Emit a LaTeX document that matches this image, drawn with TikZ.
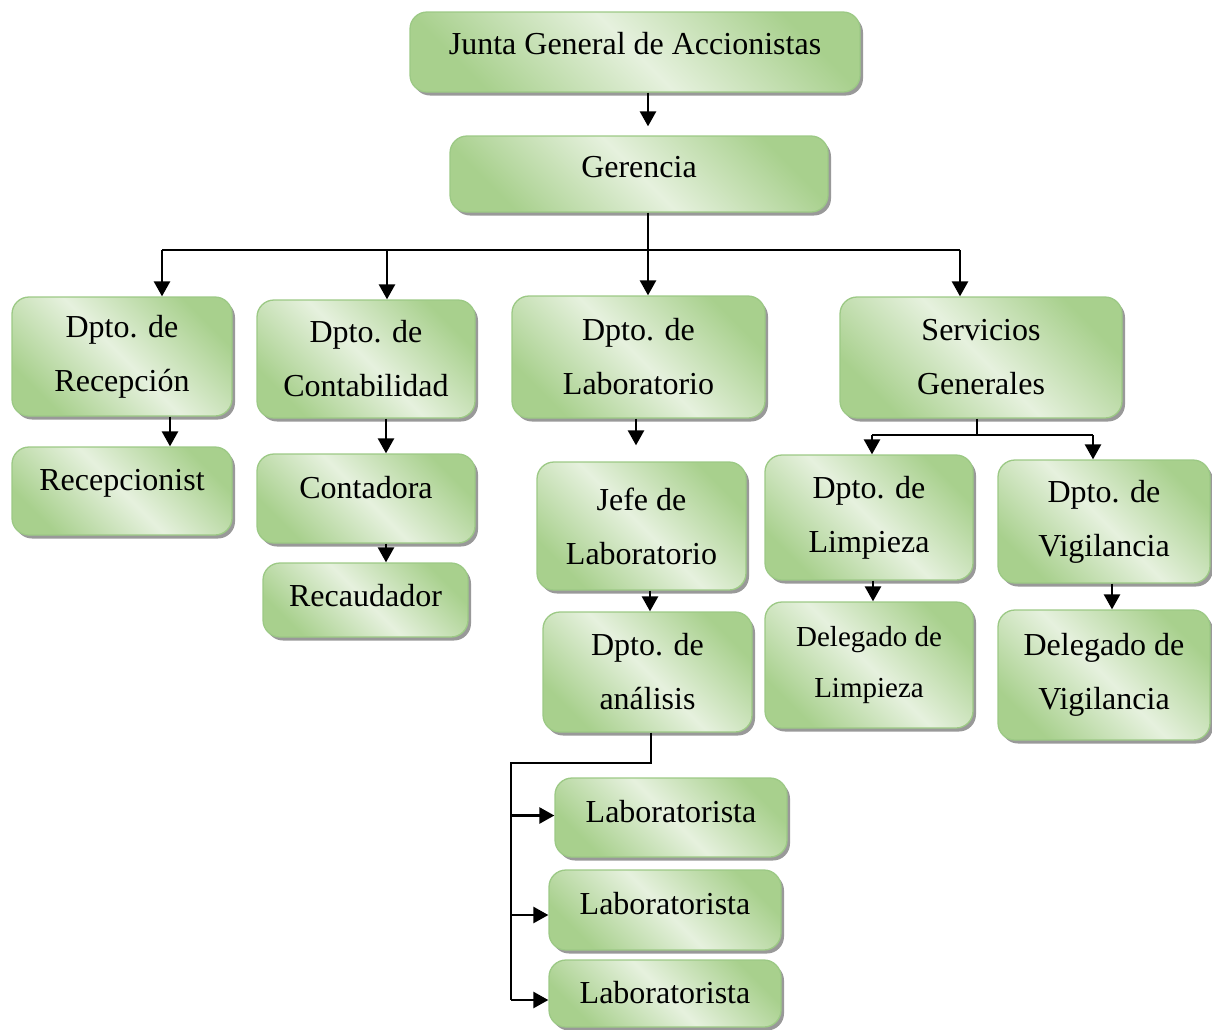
\documentclass[tikz,border=0pt]{standalone}
\usepackage{fontspec}
\setmainfont{Liberation Serif}
\usetikzlibrary{shadows,arrows.meta}
\definecolor{gdark}{HTML}{A8D08D}
\definecolor{glight}{HTML}{E6F1DE}
\definecolor{gedge}{HTML}{9CC985}
\definecolor{shd}{HTML}{8E8E8E}
\begin{document}
\begin{tikzpicture}[x=1pt,y=-1pt,
  box/.style={rounded corners=17pt, draw=gedge, line width=1.3pt,
    top color=gdark, bottom color=gdark, middle color=glight, shading angle=-45,
    drop shadow={shadow xshift=3pt, shadow yshift=-3.5pt, fill=shd, opacity=0.9},
    align=center, font=\fontsize{32}{54}\selectfont, inner sep=0pt},
  wh/.style 2 args={minimum width=#1, minimum height=#2},
  one/.style={text height=22pt, text depth=#1},
  arr/.style={line width=2.6pt, -{Triangle[width=16pt,length=15pt]}},
  ln/.style={line width=2pt}]
\useasboundingbox (0,0) rectangle (1212,1029);

\node[box, wh={450pt}{80pt}, one=18pt] (jga) at (635,52) {Junta General de Accionistas};
\node[box, wh={378pt}{76pt}, one=16pt] (ger) at (639,174) {Gerencia};
\node[box, wh={220pt}{119pt}] (rec) at (122,356.5) {Dpto. de\\Recepción};
\node[box, wh={218pt}{118pt}] (cont) at (366,359) {Dpto. de\\Contabilidad};
\node[box, wh={253pt}{122pt}] (lab) at (638.5,357) {Dpto. de\\Laboratorio};
\node[box, wh={282pt}{121pt}] (serv) at (981,357.5) {Servicios\\Generales};
\node[box, wh={220pt}{88pt}, one=24pt] (recp) at (122,491) {Recepcionist};
\node[box, wh={218pt}{89pt}, one=22pt] (contd) at (366,498.5) {Contadora};
\node[box, wh={205pt}{74pt}, one=10pt] (recd) at (365.5,600) {Recaudador};
\node[box, wh={209pt}{128pt}] (jefe) at (641.5,526) {Jefe de\\Laboratorio};
\node[box, wh={209pt}{120pt}] (anal) at (647.5,672) {Dpto. de\\análisis};
\node[box, wh={208pt}{125pt}] (limp) at (869,517.5) {Dpto. de\\Limpieza};
\node[box, wh={212pt}{123pt}] (vig) at (1104,521.5) {Dpto. de\\Vigilancia};
\node[box, wh={208pt}{126pt}, font=\fontsize{29}{51}\selectfont] (dlimp) at (869,665) {Delegado de\\Limpieza};
\node[box, wh={212pt}{130pt}] (dvig) at (1104,675) {Delegado de\\Vigilancia};
\node[box, wh={232pt}{79pt}, one=12pt] (l1) at (671,817.5) {Laboratorista};
\node[box, wh={232pt}{80pt}, one=14pt] (l2) at (665,910) {Laboratorista};
\node[box, wh={232pt}{67pt}, one=2pt] (l3) at (665,993.5) {Laboratorista};

% top
\coordinate (t) at (648,0);
\draw[arr, shorten >=9pt] (jga.south -| t) -- (ger.north -| t);
\coordinate (bL) at (162,250);
\coordinate (b2) at (387,250);
\coordinate (b3) at (648,250);
\coordinate (bR) at (960,250);
\draw[ln] (ger.south -| b3) -- (b3);
\draw[ln] (bL) -- (bR);
\draw[arr] (bL) -- (bL |- rec.north);
\draw[arr] (b2) -- (b2 |- cont.north);
\draw[arr] (b3) -- (b3 |- lab.north);
\draw[arr] (bR) -- (bR |- serv.north);

% reception / accounting
\coordinate (xr) at (170,0);
\draw[arr] (rec.south -| xr) -- (recp.north -| xr);
\coordinate (xc) at (386,0);
\draw[arr] (cont.south -| xc) -- (contd.north -| xc);
\draw[arr] (contd.south -| xc) -- (recd.north -| xc);

% laboratory
\coordinate (xl) at (636,0);
\draw[arr, shorten >=16pt] (lab.south -| xl) -- (jefe.north -| xl);
\coordinate (xj) at (650,0);
\draw[arr] (jefe.south -| xj) -- (anal.north -| xj);
\coordinate (ab) at (651,763);
\coordinate (al) at (511,763);
\coordinate (ad) at (511,1000);
\draw[ln] (anal.south -| ab) -- (ab) -- (al) -- (ad);
\draw[arr] ([yshift=2pt]al |- l1.west) -- ([yshift=2pt]l1.west);
\draw[arr] ([yshift=-5pt]al |- l2.west) -- ([yshift=-5pt]l2.west);
\draw[arr] (ad) -- (ad -| l3.west);

% services
\coordinate (sb) at (977,435);
\coordinate (sbl) at (872,435);
\coordinate (sbr) at (1093,435);
\draw[ln] (serv.south -| sb) -- (sb);
\draw[ln] (sbl) -- (sbr);
\draw[arr] (sbl) -- (sbl |- limp.north);
\draw[arr] (sbr) -- (sbr |- vig.north);
\coordinate (xdl) at (873,0);
\draw[arr] (limp.south -| xdl) -- (dlimp.north -| xdl);
\coordinate (xdv) at (1112,0);
\draw[arr] (vig.south -| xdv) -- (dvig.north -| xdv);
\end{tikzpicture}
\end{document}
